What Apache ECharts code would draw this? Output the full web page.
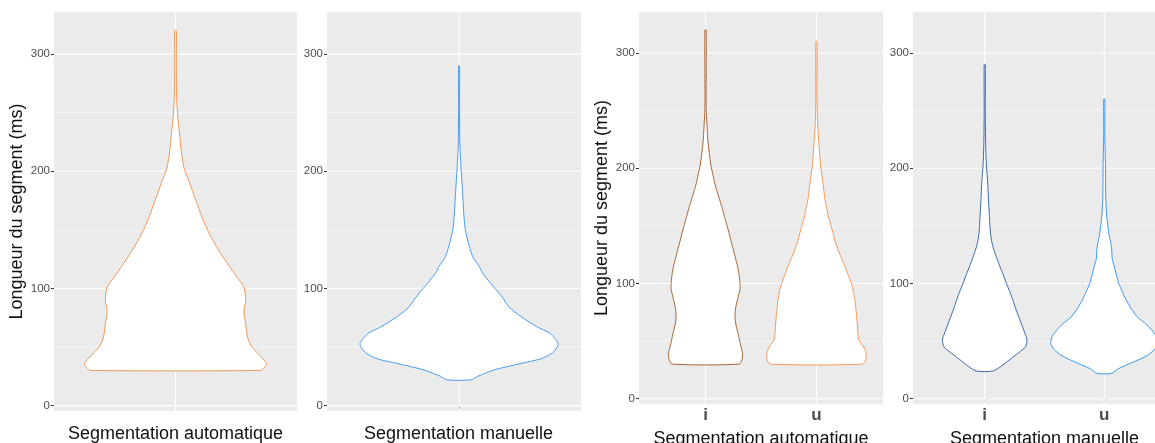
<!DOCTYPE html>
<html>
<head>
<meta charset="utf-8">
<script src="https://cdn.jsdelivr.net/npm/echarts@6/dist/echarts.min.js"></script>
<style>
html,body{margin:0;padding:0;background:#fff;}
#c{width:1155px;height:443px;}
</style>
</head>
<body>
<div id="c"></div>
<script>
// ---- data ----
const yMajorTicks = [0, 100, 200, 300];
const yMinorTicks = [50, 150, 250];
const singleCat = [''];
const vowelCats = ['i', 'u'];
const yTitle = 'Longueur du segment (ms)';
const xTitles = ['Segmentation automatique', 'Segmentation manuelle', 'Segmentation automatique', 'Segmentation manuelle'];

// Violin profiles: segment length (ms) and relative density width (1 = widest violin of panel)
const autoAllY = [30, 32, 35, 39, 44, 50, 56, 63, 70, 80, 90, 100, 105, 110, 119, 133, 147, 161, 176, 190, 198, 204, 218, 233, 247, 261, 275, 300, 320];
const autoAllW = [0.93, 0.97, 1.0, 0.97, 0.91, 0.84, 0.80, 0.78, 0.77, 0.75, 0.77, 0.755, 0.72, 0.67, 0.59, 0.47, 0.37, 0.29, 0.22, 0.155, 0.115, 0.09, 0.062, 0.043, 0.025, 0.014, 0.01, 0.009, 0.009];

const manAllY = [22, 25, 30.5, 36, 40, 45, 50, 53, 57, 62, 67, 76, 84, 92, 99, 104, 113, 119, 127, 136, 150, 164, 178, 204, 224, 260, 290];
const manAllW = [0.126, 0.196, 0.37, 0.65, 0.86, 0.98, 1.03, 1.04, 1.01, 0.95, 0.825, 0.65, 0.527, 0.458, 0.388, 0.335, 0.248, 0.21, 0.144, 0.108, 0.066, 0.049, 0.040, 0.02, 0.008, 0.005, 0.005];

const autoIY = [30, 34, 40, 45, 51, 57, 64, 71, 78, 86, 95, 100, 108, 115, 122, 129, 136, 144, 151, 158, 166, 173, 180, 187, 195, 202, 213, 225, 240, 251, 280, 320];
const autoIW = [0.67, 0.73, 0.74, 0.71, 0.68, 0.65, 0.61, 0.59, 0.60, 0.64, 0.69, 0.69, 0.67, 0.64, 0.60, 0.56, 0.515, 0.47, 0.425, 0.38, 0.33, 0.28, 0.23, 0.185, 0.145, 0.11, 0.075, 0.045, 0.026, 0.012, 0.012, 0.012];

const autoUY = [30, 34, 40, 45, 51, 57, 64, 71, 78, 86, 93, 100, 108, 115, 122, 129, 136, 144, 151, 158, 166, 173, 180, 187, 195, 202, 213, 225, 239, 260, 310];
const autoUW = [0.925, 0.99, 0.99, 0.945, 0.85, 0.83, 0.82, 0.806, 0.79, 0.77, 0.74, 0.70, 0.63, 0.57, 0.50, 0.436, 0.38, 0.33, 0.285, 0.24, 0.204, 0.17, 0.15, 0.13, 0.105, 0.083, 0.063, 0.044, 0.024, 0.012, 0.012];

const manIY = [24, 28, 34, 40, 45, 51, 57, 64, 71, 78, 86, 93, 100, 108, 115, 121, 127, 135, 144, 158, 173, 187, 202, 220, 250, 290];
const manIW = [0.155, 0.30, 0.465, 0.633, 0.758, 0.786, 0.745, 0.69, 0.633, 0.577, 0.52, 0.465, 0.404, 0.34, 0.28, 0.233, 0.186, 0.136, 0.106, 0.0875, 0.069, 0.056, 0.032, 0.017, 0.01, 0.01];

const manUY = [22, 26, 31, 37, 43, 48, 54, 60, 66, 71, 78, 86, 93, 100, 108, 115, 121, 128, 135, 141, 147, 158, 173, 202, 230, 260];
const manUW = [0.136, 0.26, 0.50, 0.78, 0.94, 0.993, 0.968, 0.875, 0.745, 0.615, 0.503, 0.404, 0.335, 0.27, 0.223, 0.186, 0.149, 0.14, 0.121, 0.093, 0.0745, 0.0466, 0.028, 0.022, 0.01, 0.01];

// ---- layout / style ----
const FONT = '"Liberation Sans", Arial, Helvetica, sans-serif';
const HALF = 0.45; // max half-width of a violin in category units
const panels = [
  { left: 54,  top: 12, width: 243, height: 399, xmin: 0.4,   ymin: -4.6, ymax: 336,   cats: singleCat, yName: true,  xGap: 13.5, yGap: 23, namePad: 0 },
  { left: 327, top: 12, width: 254, height: 399, xmin: 0.376, ymin: -4.6, ymax: 336,   cats: singleCat, yName: false, xGap: 13.5, yGap: 23, namePad: 9 },
  { left: 639, top: 12, width: 244, height: 392, xmin: 0.4,   ymin: -4.6, ymax: 335.6, cats: vowelCats, yName: true,  xGap: 20.5, yGap: 21, namePad: 0 },
  { left: 913, top: 12, width: 263, height: 392, xmin: 0.4,   ymin: -4.6, ymax: 335.6, cats: vowelCats, yName: false, xGap: 20.5, yGap: 21, namePad: 0 }
];
const violins = [
  { panel: 0, pos: 1, ys: autoAllY, ws: autoAllW, color: '#F2995A' },
  { panel: 1, pos: 1, ys: manAllY,  ws: manAllW,  color: '#4A9DF0' },
  { panel: 2, pos: 1, ys: autoIY,   ws: autoIW,   color: '#A8663A' },
  { panel: 2, pos: 2, ys: autoUY,   ws: autoUW,   color: '#F2995A' },
  { panel: 3, pos: 1, ys: manIY,    ws: manIW,    color: '#3C6AA5' },
  { panel: 3, pos: 2, ys: manUY,    ws: manUW,    color: '#3A98F0' }
];

const grids = [], xAxes = [], yAxes = [], series = [];
panels.forEach((p, k) => {
  const catPos = p.cats.map((c, i) => i + 1);
  grids.push({ left: p.left, top: p.top, width: p.width, height: p.height, show: true,
    backgroundColor: '#EBEBEB', borderWidth: 0, containLabel: false, outerBoundsMode: 'none' });
  xAxes.push({
    type: 'value', gridIndex: k, min: p.xmin, max: p.xmin + p.cats.length + 0.2,
    axisLine: { show: false }, splitLine: { show: false },
    axisTick: { show: true, customValues: catPos, length: 3, lineStyle: { color: '#333333', width: 1 } },
    axisLabel: { customValues: catPos, formatter: v => p.cats[Math.round(v) - 1] || '',
      fontSize: 17, fontWeight: 'bold', color: '#4D4D4D', margin: 3, fontFamily: FONT },
    name: xTitles[k], nameLocation: 'middle', nameGap: p.xGap,
    nameTextStyle: { fontSize: 18, color: '#111111', fontFamily: FONT, lineHeight: 20, padding: [0, 0, 0, p.namePad] }
  });
  yAxes.push({
    type: 'value', gridIndex: k, min: p.ymin, max: p.ymax,
    axisLine: { show: false }, splitLine: { show: false },
    axisTick: { show: true, customValues: yMajorTicks, length: 3, lineStyle: { color: '#333333', width: 1 } },
    axisLabel: { customValues: yMajorTicks, fontSize: 11.5, color: '#4D4D4D', margin: 4, fontFamily: FONT },
    name: p.yName ? yTitle : '', nameLocation: 'middle', nameGap: p.yGap, nameRotate: 90,
    nameTextStyle: { fontSize: 18, color: '#111111', fontFamily: FONT, lineHeight: 20 }
  });
  // grid lines (panel.grid.major / minor)
  const gl = [];
  yMajorTicks.forEach(v => gl.push([0, v, 1]));
  yMinorTicks.forEach(v => gl.push([0, v, 0]));
  catPos.forEach(v => gl.push([1, v, 1]));
  series.push({
    type: 'custom', xAxisIndex: k, yAxisIndex: k, z: 1, silent: true, animation: false,
    encode: { x: 1, y: 1 },
    data: gl,
    renderItem: function (params, api) {
      const cs = params.coordSys;
      const kind = api.value(0), v = api.value(1), major = api.value(2);
      let shape;
      if (kind === 0) {
        const pt = api.coord([1, v]);
        shape = { x1: cs.x, y1: pt[1], x2: cs.x + cs.width, y2: pt[1] };
      } else {
        const pt = api.coord([v, 0]);
        shape = { x1: pt[0], y1: cs.y, x2: pt[0], y2: cs.y + cs.height };
      }
      return { type: 'line', shape: shape, style: { stroke: '#FFFFFF', lineWidth: major ? 1.1 : 0.55 } };
    }
  });
});

violins.forEach(vl => {
  series.push({
    type: 'custom', xAxisIndex: vl.panel, yAxisIndex: vl.panel, z: 5, silent: true, animation: false,
    data: [[vl.pos, vl.ys[0]]],
    renderItem: function (params, api) {
      const c = api.value(0);
      const right = [], left = [];
      for (let i = 0; i < vl.ys.length; i++) {
        right.push(api.coord([c + vl.ws[i] * HALF, vl.ys[i]]));
        left.unshift(api.coord([c - vl.ws[i] * HALF, vl.ys[i]]));
      }
      return {
        type: 'polygon',
        shape: { points: right.concat(left), smooth: 0.25 },
        style: { fill: '#FFFFFF', stroke: vl.color, lineWidth: 1 }
      };
    }
  });
});

const chart = echarts.init(document.getElementById('c'), null, { renderer: 'canvas' });
chart.setOption({
  animation: false,
  backgroundColor: '#FFFFFF',
  textStyle: { fontFamily: FONT },
  grid: grids, xAxis: xAxes, yAxis: yAxes, series: series
});
</script>
</body>
</html>
